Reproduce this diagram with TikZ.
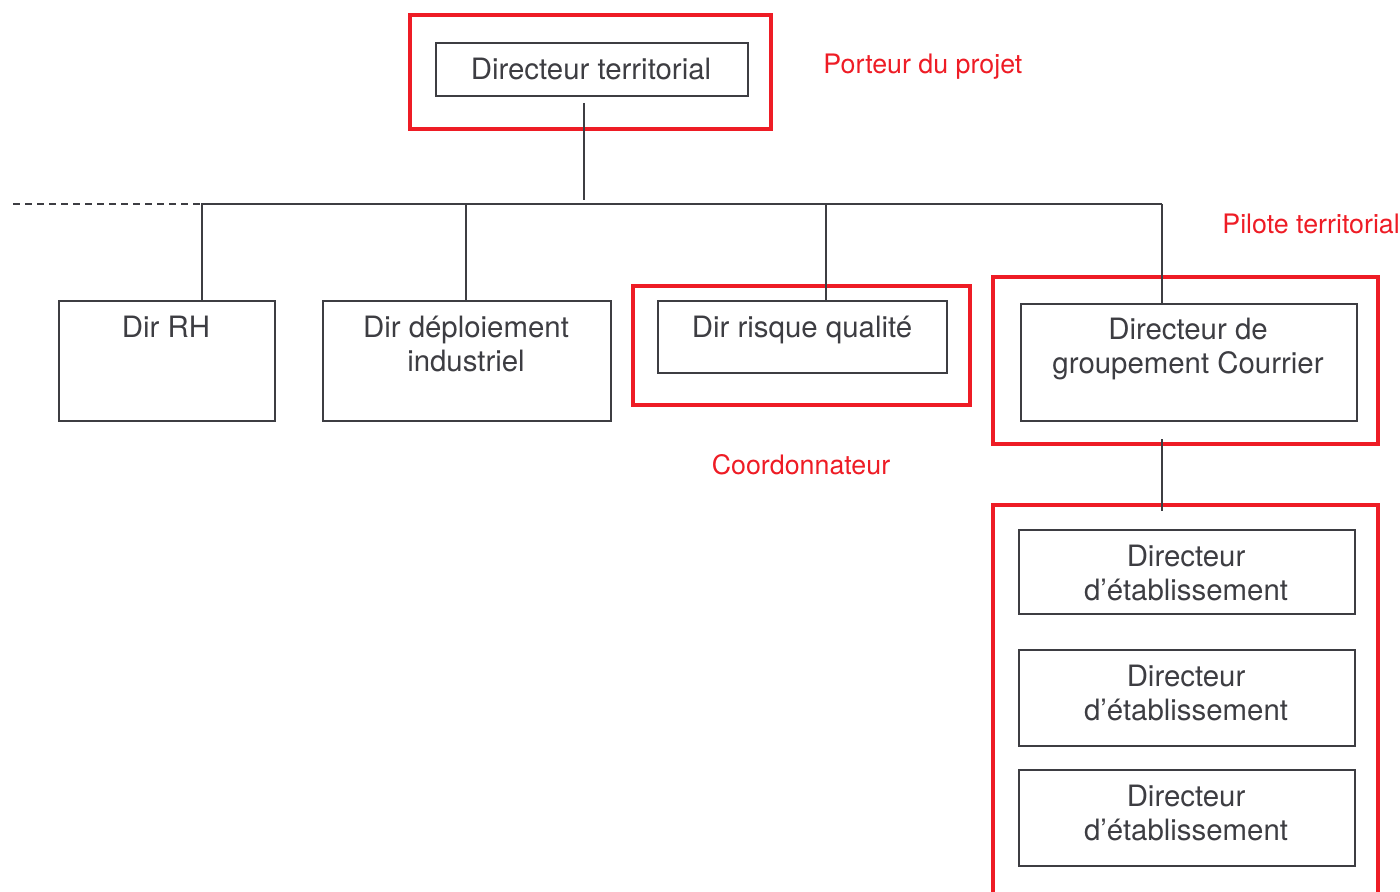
\documentclass[tikz,border=0pt]{standalone}
\usepackage{fontspec}
\setmainfont{TeX Gyre Heros}
\usepackage{tikz}
\usetikzlibrary{positioning, calc}
\definecolor{myInk}{HTML}{3D3D42}
\definecolor{myRed}{HTML}{EE1C25}
\tikzset{
  orgbox/.style={draw=myInk, line width=1pt, rectangle, inner sep=0pt, anchor=north west},
  orgtext/.style={text=myInk, font=\fontsize{14.7}{17}\selectfont, align=center, inner sep=0pt, anchor=north},
  rolebox/.style={draw=myRed, line width=2pt},
  roletext/.style={text=myRed, font=\fontsize{13.4}{16}\selectfont, inner sep=0pt},
  link/.style={draw=myInk, line width=1pt}
}

\begin{document}
\begin{tikzpicture}[x=0.5pt,y=-0.5pt]
        \useasboundingbox (0,0) rectangle (1400,892);
        \clip (0,0) rectangle (1400,892);
        % red frames
        \draw[rolebox] (410,15) rectangle (771,129);
        \draw[rolebox] (633,286) rectangle (970,405);
        \draw[rolebox] (993,277) rectangle (1378,444);
        \draw[rolebox] (993,900) |- (1378,505) -- (1378,900);
        % boxes
        \node[orgbox, minimum width=156pt, minimum height=26.5pt] (dt) at (435,42) {};
        \node[orgbox, minimum width=108pt, minimum height=60pt] (rh) at (58,300) {};
        \node[orgbox, minimum width=144pt, minimum height=60pt] (dep) at (322,300) {};
        \node[orgbox, minimum width=144.5pt, minimum height=36pt] (rq) at (657,300) {};
        \node[orgbox, minimum width=168pt, minimum height=58.5pt] (grp) at (1020,303) {};
        \node[orgbox, minimum width=168pt, minimum height=42pt] (etab1) at (1018,529) {};
        \node[orgbox, minimum width=168pt, minimum height=48pt] (etab2) at (1018,649) {};
        \node[orgbox, minimum width=168pt, minimum height=48pt] (etab3) at (1018,769) {};
        % texts
        \node[orgtext] (dtText) at (591,58) {Directeur territorial};
        \node[orgtext] (rhText) at (166,316) {Dir RH};
        \node[orgtext] (depText) at (466,316) {Dir déploiement\\industriel};
        \node[orgtext] (rqText) at (802,316) {Dir risque qualité};
        \node[orgtext] (grpText) at (1188,318) {Directeur de\\groupement Courrier};
        \foreach \i/\y in {1/545, 2/665, 3/785}
          \node[orgtext] (etabText\i) at (1186,\y) {Directeur\\d’établissement};
        \node[roletext, anchor=base west] (porteur) at (823,74) {Porteur du projet};
        \node[roletext, anchor=base west] (pilote) at (1222,234) {Pilote territorial};
        \node[roletext, anchor=base] (coord) at (801,474) {Coordonnateur};
        % connectors
        \coordinate (dtFoot) at (584,103);
        \coordinate (busW) at (201,204);
        \coordinate (busE) at (1162,204);
        \coordinate (busEnd) at (13,204);
        \coordinate (grpFoot) at (1162,439);
        \coordinate (etabTop) at (1162,511);
        \draw[link] (dtFoot) -- (584,200);
        \draw[link] (busW) -- (busE);
        \draw[link, dash pattern=on 3.5pt off 2.5pt] (busEnd) -- (busW);
        \draw[link] (202,204) -- (202,204 |- rh.north);
        \draw[link] (466,204) -- (466,204 |- dep.north);
        \draw[link] (826,204) -- (826,302);
        \draw[link] (busE) -- (busE |- grp.north);
        \draw[link] (grpFoot) -- (etabTop);
      \end{tikzpicture}
\end{document}
